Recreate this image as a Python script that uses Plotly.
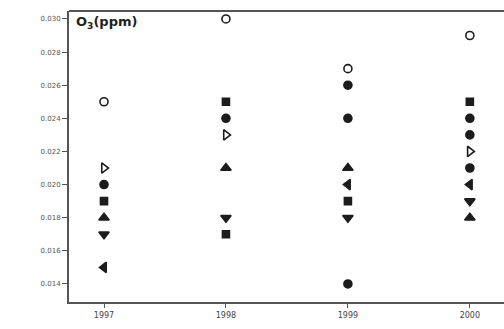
import plotly.graph_objects as go

tick_years = [1997, 1998, 1999, 2000]
tick_labels = ["1997", "1998", "1999", "2000"]
y_ticks = [0.014, 0.016, 0.018, 0.020, 0.022, 0.024, 0.026, 0.028, 0.030]
y_labels = ["0.014", "0.016", "0.018", "0.020", "0.022", "0.024", "0.026", "0.028", "0.030"]

open_circle_x = [1997, 1998, 1999, 2000]
open_circle_y = [0.025, 0.030, 0.027, 0.029]

open_tri_x = [1997, 1998, 2000]
open_tri_y = [0.021, 0.023, 0.022]

square_x = [1997, 1998, 1998, 1999, 2000]
square_y = [0.019, 0.025, 0.017, 0.019, 0.025]

circle_x = [1997, 1998, 1999, 1999, 1999, 2000, 2000, 2000]
circle_y = [0.020, 0.024, 0.026, 0.024, 0.014, 0.024, 0.023, 0.021]

tri_up_x = [1997, 1998, 1999, 2000]
tri_up_y = [0.018, 0.021, 0.021, 0.018]

tri_down_x = [1997, 1998, 1999, 2000]
tri_down_y = [0.017, 0.018, 0.018, 0.019]

tri_left_x = [1997, 1999, 2000]
tri_left_y = [0.015, 0.020, 0.020]

ink = "#1c1c1c"

series = [
    (open_circle_x, open_circle_y, "circle-open", 8),
    (open_tri_x, open_tri_y, "triangle-right-open", 9),
    (square_x, square_y, "square", 7),
    (circle_x, circle_y, "circle", 8),
    (tri_up_x, tri_up_y, "triangle-up", 9),
    (tri_down_x, tri_down_y, "triangle-down", 9),
    (tri_left_x, tri_left_y, "triangle-left", 9),
]

fig = go.Figure()
for xs, ys, sym, sz in series:
    fig.add_trace(go.Scatter(
        x=xs, y=ys, mode="markers",
        marker=dict(symbol=sym, size=sz, color=ink,
                    line=dict(color=ink, width=1.6)),
        showlegend=False,
    ))

fig.update_layout(
    width=504, height=329,
    margin=dict(l=69, r=0, t=11, b=27, pad=0),
    paper_bgcolor="white", plot_bgcolor="white",
    showlegend=False,
    font=dict(family="DejaVu Sans", color="#555"),
    xaxis=dict(
        range=[1996.713, 2000.28],
        tickmode="array", tickvals=tick_years, ticktext=tick_labels,
        showgrid=False, zeroline=False,
        showline=True, linecolor="#555", linewidth=2, mirror=False,
        ticks="outside", ticklen=4, tickcolor="#555", tickwidth=1,
        tickfont=dict(size=8, color="#444", family="DejaVu Sans"),
    ),
    yaxis=dict(
        range=[0.01291, 0.03048],
        tickmode="array", tickvals=y_ticks, ticktext=y_labels,
        showgrid=False, zeroline=False,
        showline=True, linecolor="#555", linewidth=2, mirror=False,
        ticks="outside", ticklen=5, tickcolor="#555", tickwidth=1,
        tickfont=dict(size=7, color="#555", family="DejaVu Sans"),
    ),
    shapes=[dict(
        type="line", xref="paper", yref="paper",
        x0=0, x1=1.02, y0=1, y1=1,
        line=dict(color="#555", width=2),
    )],
    annotations=[dict(
        x=0.012, y=0.995, xref="paper", yref="paper",
        xanchor="left", yanchor="top", showarrow=False,
        text="<b>O<sub>3</sub>(ppm)</b>",
        font=dict(size=13, color="#222", family="DejaVu Sans"),
    )],
)

fig.write_html("out.html", config={"displayModeBar": False})
